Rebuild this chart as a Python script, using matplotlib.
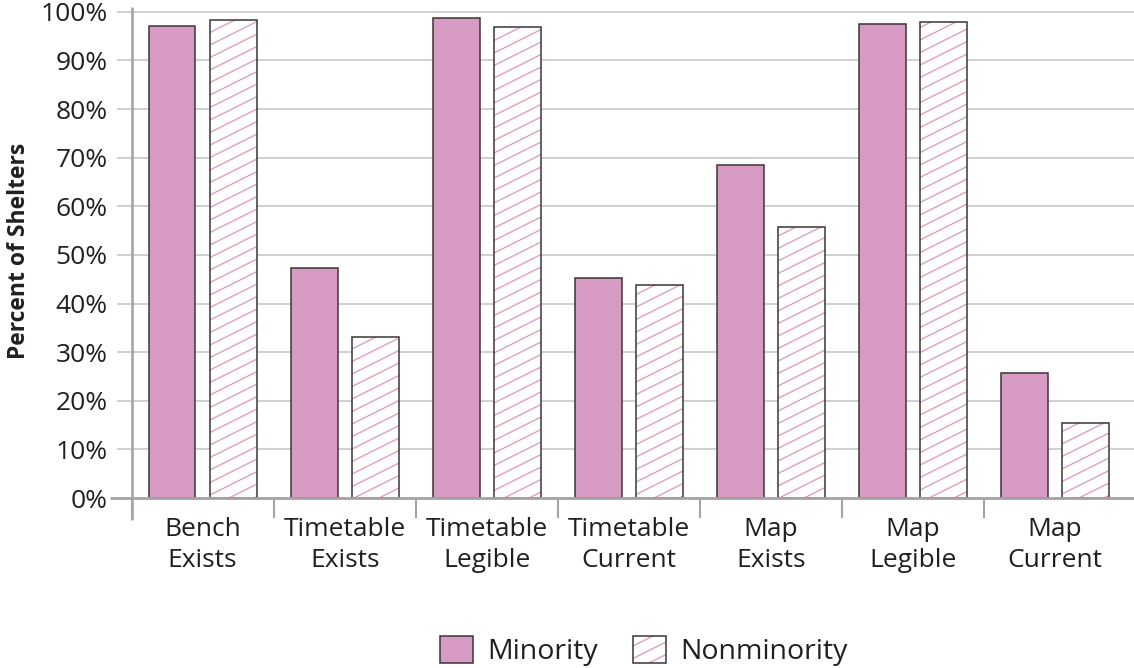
import numpy as np
import matplotlib
matplotlib.use("Agg")
import matplotlib.pyplot as plt
import matplotlib.hatch as mhatch
from matplotlib.path import Path
from matplotlib.patches import Patch
from matplotlib.legend_handler import HandlerTuple
from matplotlib.transforms import blended_transform_factory

# ---- data -------------------------------------------------------------
categories = ["Bench\nExists", "Timetable\nExists", "Timetable\nLegible",
              "Timetable\nCurrent", "Map\nExists", "Map\nLegible", "Map\nCurrent"]
minority = [97.1, 47.3, 98.8, 45.3, 68.4, 97.5, 25.8]
nonminority = [98.4, 33.1, 96.9, 43.8, 55.7, 97.9, 15.4]
ytick_values = list(range(0, 101, 10))
ytick_labels = [f"{v}%" for v in ytick_values]
series_names = ["Minority", "Nonminority"]

# ---- style -------------------------------------------------------------
PINK = "#d79ac3"
HATCH_PINK = "#dd9fcb"
EDGE = "#3b3536"
TEXT = "#231f20"
GRID = "#c4c4c6"
AXIS = "#a5a5a8"
FONT = "Open Sans"

plt.rcParams["font.family"] = [FONT, "DejaVu Sans"]
plt.rcParams["hatch.linewidth"] = 1.0


class ShallowHatch(mhatch.HatchPatternBase):
    """Diagonal hatch with slope 1/2 (replaces the default '/' pattern)."""

    def __init__(self, hatch, density):
        self.num_lines = hatch.count("/") * 12
        self.num_vertices = self.num_lines * 2

    def set_vertices_and_codes(self, vertices, codes):
        offsets = -0.5 + np.arange(self.num_lines) / 8.0
        vertices[0::2, 0] = 0.0
        vertices[0::2, 1] = offsets
        vertices[1::2, 0] = 1.0
        vertices[1::2, 1] = offsets + 0.5
        codes[0::2] = Path.MOVETO
        codes[1::2] = Path.LINETO


mhatch._hatch_types = [ShallowHatch if t is mhatch.NorthEastHatch else t
                       for t in mhatch._hatch_types]

W, H = 1134, 668
fig = plt.figure(figsize=(W / 100, H / 100), dpi=100)
ax_left, ax_bottom = 131.5, 170
ax = fig.add_axes([ax_left / W, ax_bottom / H, (W - ax_left) / W, 491 / H])

n = len(categories)
centers = np.arange(n) + 0.5
bar_w = 0.33
off = 0.215

# minority bars
ax.bar(centers - off, minority, width=bar_w, color=PINK, edgecolor=EDGE,
       linewidth=1.1, zorder=3)
# nonminority bars: hatched fill, then outline on top
ax.bar(centers + off, nonminority, width=bar_w, color="white",
       edgecolor=HATCH_PINK, linewidth=0, hatch="/", zorder=3)
ax.bar(centers + off, nonminority, width=bar_w, fill=False, edgecolor=EDGE,
       linewidth=1.1, zorder=4)

ax.set_xlim(0, (W - ax_left) / 142.1)
ax.set_ylim(0, 101)

# y axis: ticks extend left of the axis as part of the grid lines
ax.set_yticks(ytick_values)
ax.set_yticklabels(ytick_labels, fontsize=19, color=TEXT)
ax.tick_params(axis="y", length=11, width=1.1, color=GRID, pad=6)
ax.yaxis.grid(True, color=GRID, linewidth=1.1, zorder=0)
ax.set_axisbelow(True)

# x axis: labels centred on groups, separators between groups
ax.set_xticks(centers)
ax.set_xticklabels(categories, fontsize=19, color=TEXT, linespacing=1.3)
ax.set_xticks(np.arange(n), minor=True)
ax.tick_params(axis="x", which="major", length=0, pad=14)
ax.tick_params(axis="x", which="minor", length=14.5, width=1.5, color=AXIS,
               direction="out")

for s in ax.spines.values():
    s.set_visible(False)

# left axis line, running slightly below the baseline
ax.plot([0, 0], [-22 / 491, 1], transform=ax.transAxes, color=AXIS,
        linewidth=1.9, clip_on=False, zorder=5, solid_capstyle="butt")
# baseline at 0%
base_tf = blended_transform_factory(ax.transAxes, ax.transData)
ax.plot([-21.5 / (W - ax_left), 1], [0, 0], transform=base_tf, color=AXIS,
        linewidth=2.0, clip_on=False, zorder=5, solid_capstyle="butt")

fig.text(19 / W, 1 - 251 / H, "Percent of Shelters", rotation=90,
         fontsize=16.5, fontweight="bold", color=TEXT,
         ha="center", va="center")

# legend
h_min = Patch(facecolor=PINK, edgecolor=EDGE, linewidth=1.1)
h_non_fill = Patch(facecolor="white", edgecolor=HATCH_PINK, linewidth=0,
                   hatch="/")
h_non_edge = Patch(fill=False, edgecolor=EDGE, linewidth=1.1)
fig.legend([h_min, (h_non_fill, h_non_edge)], series_names,
           handler_map={tuple: HandlerTuple(ndivide=1, pad=0)},
           loc="center", bbox_to_anchor=(644 / W, 1 - 651 / H), ncol=2,
           frameon=False, fontsize=20.5, handlelength=1.16, handleheight=1.12,
           handletextpad=0.5, columnspacing=1.23, borderpad=0,
           labelcolor=TEXT)

fig.savefig("out.png", dpi=100)
